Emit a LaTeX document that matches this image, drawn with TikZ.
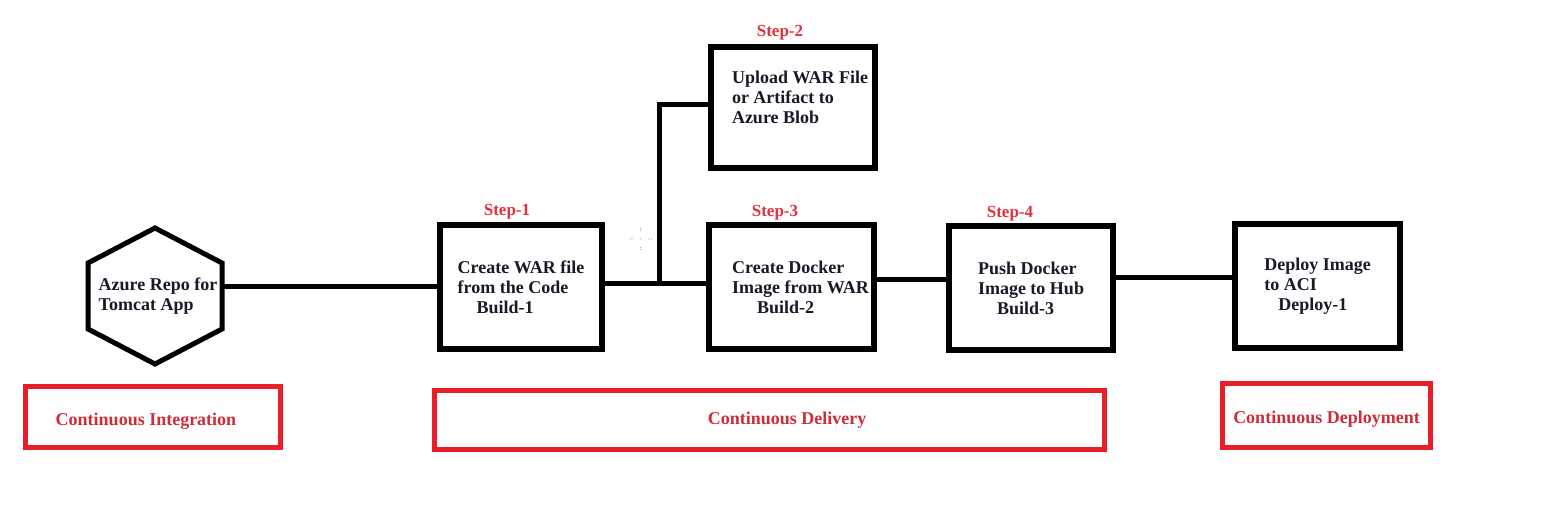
\documentclass[tikz,border=0pt]{standalone}
\usepackage{fontspec}
\setmainfont{Liberation Serif}
\usetikzlibrary{calc}
\definecolor{boxred}{RGB}{232,30,42}
\definecolor{txtred}{RGB}{205,45,55}
\definecolor{stepred}{RGB}{225,50,62}
\definecolor{ink}{RGB}{25,25,40}
\begin{document}
\begin{tikzpicture}[x=1pt,y=-1pt,
  every node/.style={font=\fontsize{18}{20}\selectfont\bfseries},
  stagebox/.style={draw=black, line width=5.5pt, align=left, inner sep=0pt,
                   minimum width=164pt, minimum height=124pt, text=ink},
  phasebox/.style={draw=boxred, line width=5pt, text=txtred, inner sep=0pt},
  steplabel/.style={text=stepred, font=\fontsize{17}{20}\selectfont\bfseries, inner sep=0pt},
  link/.style={line width=5pt, line cap=butt}]
\useasboundingbox[fill=white] (0,0) rectangle (1549,516);

% hexagon (repository)
\node[align=left, inner sep=0pt, outer sep=0pt, minimum width=134pt, minimum height=66pt, text=ink]
  (repo) at (155,296) {\hspace*{6pt}Azure Repo for\\\hspace*{6pt}Tomcat App};
\draw[line width=5pt, line join=miter]
  (repo.north west) -- ([yshift=35pt]repo.north) -- (repo.north east)
  -- (repo.south east) -- ([yshift=-35pt]repo.south) -- (repo.south west) -- cycle;

% stage boxes
\node[stagebox, minimum width=162pt] (b1) at (521,287)
  {Create WAR file\\from the Code\\\hspace*{19pt}Build-1};
\node[stagebox, minimum height=121pt] (b2) at (793,107.5)
  {\hspace*{14pt}Upload WAR File\\\hspace*{14pt}or Artifact to\\\hspace*{14pt}Azure Blob\\\mbox{}};
\node[stagebox, minimum width=165pt] (b3) at (791.5,287)
  {\hspace*{18pt}Create Docker\\\hspace*{18pt}Image from WAR\\\hspace*{43pt}Build-2};
\node[stagebox] (b4) at (1031,288)
  {Push Docker\\Image to Hub\hspace*{16pt}\\\hspace*{19pt}Build-3};
\node[stagebox, minimum width=165pt] (b5) at (1317.5,286)
  {Deploy Image\\to ACI\\\hspace*{14pt}Deploy-1};

% step labels
\node[steplabel] (s1) at (507,212) {Step-1};
\node[steplabel] (s2) at (780,33) {Step-2};
\node[steplabel] (s3) at (775,213) {Step-3};
\node[steplabel] (s4) at (1010,214) {Step-4};

% connectors
\draw[link] ([yshift=1pt]b1.west) -- ([yshift=1pt]b1.west -| repo.east);
\coordinate (j) at ([yshift=4pt]b1.east -| 659,0);
\draw[link] ([yshift=4pt]b1.east) -- ([yshift=4pt]b3.west);
\draw[link, line join=miter] ([yshift=-2pt]j) -- ([yshift=3pt]b2.west -| j) -- ([yshift=3pt]b2.west);
\draw[link] ([yshift=8pt]b3.east) -- ([yshift=8pt]b3.east -| b4.west);
\draw[link] ([yshift=11pt]b4.east) -- ([yshift=11pt]b4.east -| b5.west);

% phase boxes
\node[phasebox, minimum width=255pt, minimum height=61pt, text height=16pt, text depth=0pt] (ci) at (153,417)
  {Continuous Integration\hspace*{14pt}};
\node[phasebox, minimum width=670pt, minimum height=59pt] (cd) at (769.5,420)
  {\hspace*{35pt}Continuous Delivery};
\node[phasebox, minimum width=208pt, minimum height=64pt, text height=16pt, text depth=0pt] (cdep) at (1326.5,415.5)
  {Continuous Deployment};

% faint dotted marks
\foreach \p in {(640.7,228.5),(640.7,230.5),(630,239),(632,239),(640.7,239),(649,239),(651.5,239),(640.7,247.5),(640.7,249.5)}
  \fill[gray!70] \p circle (0.7pt);
\end{tikzpicture}
\end{document}
